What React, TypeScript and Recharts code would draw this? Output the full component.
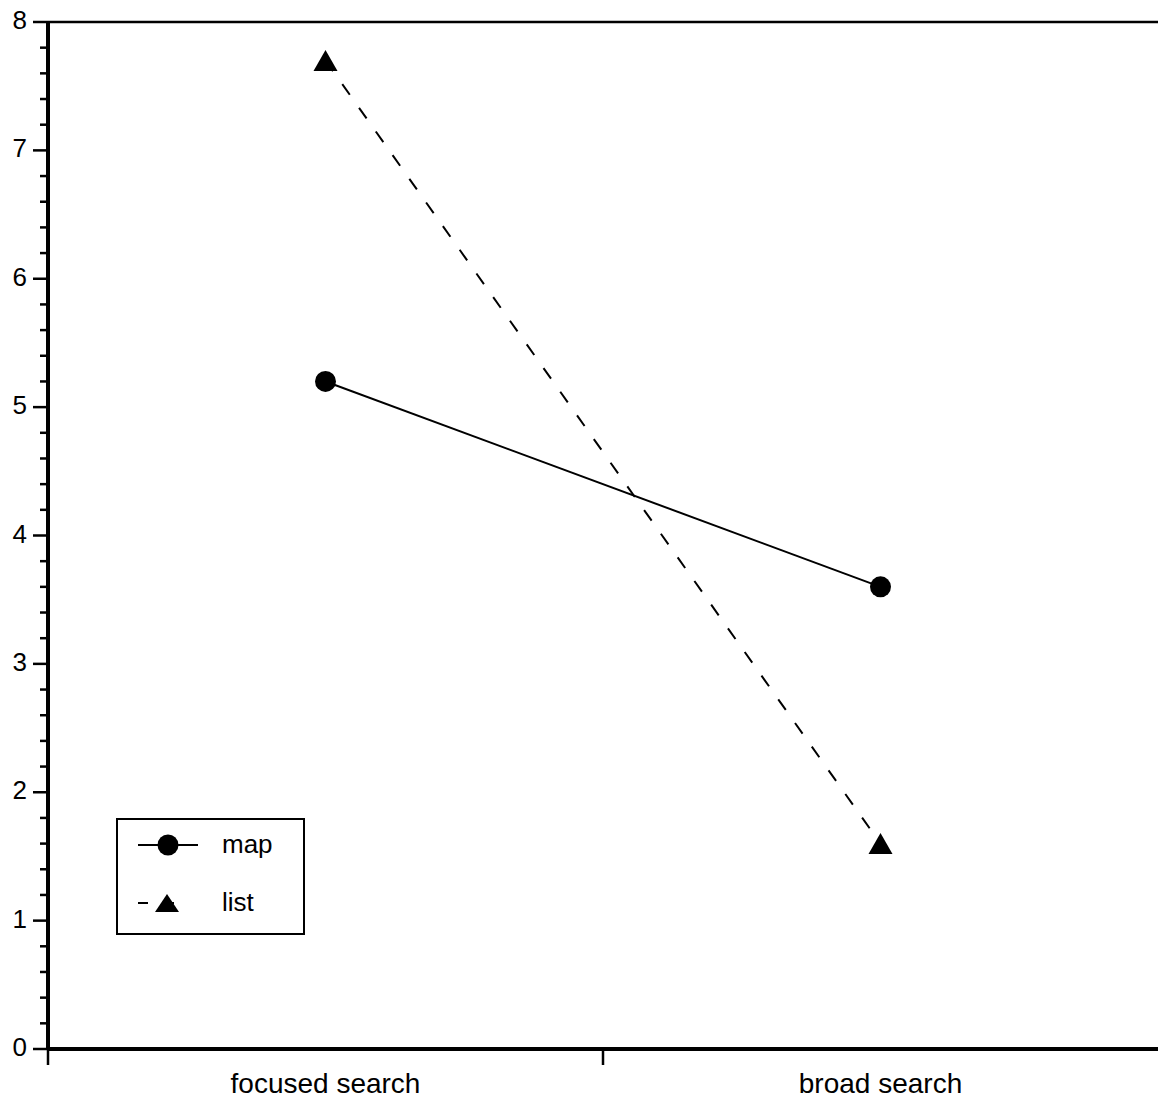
import { Legend, Line, LineChart, ReferenceLine, XAxis, YAxis } from 'recharts';

const FONT = '"Liberation Sans", Arial, sans-serif';

const CATEGORIES = ['focused search', 'broad search'];
const MAP_VALUES = [5.2, 3.6];
const LIST_VALUES = [7.7, 1.6];
const Y_MAJOR_TICKS = [0, 1, 2, 3, 4, 5, 6, 7, 8];
const Y_MINOR_PER_MAJOR = 5;

const SERIES = [
  { key: 'map', name: 'map', dash: undefined as string | undefined, marker: 'circle' },
  { key: 'list', name: 'list', dash: '13 16', marker: 'triangle' },
];

const data = CATEGORIES.map((name, i) => ({
  name,
  pos: i + 0.5,
  map: MAP_VALUES[i],
  list: LIST_VALUES[i],
}));

// minor ticks every 0.2, labels only on the whole numbers
const yTicks = Y_MAJOR_TICKS.slice(0, -1)
  .flatMap((t) =>
    Array.from({ length: Y_MINOR_PER_MAJOR }, (_, k) => Math.round((t + k / Y_MINOR_PER_MAJOR) * 10) / 10),
  )
  .concat(Y_MAJOR_TICKS[Y_MAJOR_TICKS.length - 1]);

// band edges get tick marks, band centres get the category label (right edge falls off the page)
const xTicks = CATEGORIES.flatMap((_, i) => [i, i + 0.5]);

function Marker({ type, cx, cy, small }: { type: string; cx: number; cy: number; small?: boolean }) {
  if (type === 'circle') return <circle cx={cx} cy={cy} r={10.5} fill="#000" />;
  const h = small ? 9 : 10.5;
  return <polygon points={`${cx},${cy - h} ${cx + 12},${cy + h} ${cx - 12},${cy + h}`} fill="#000" />;
}

function YTick({ x, y, payload }: any) {
  const v = payload.value;
  const major = Y_MAJOR_TICKS.includes(v);
  return (
    <g>
      <line x1={x - (major ? 15 : 8)} x2={x} y1={y} y2={y} stroke="#000" strokeWidth={2.5} />
      {major && (
        <text x={x - 21} y={y + 7} textAnchor="end" fontSize={26} fontFamily={FONT} fill="#000">
          {v}
        </text>
      )}
    </g>
  );
}

function XTick({ x, y, payload }: any) {
  const v = payload.value;
  if (Number.isInteger(v)) {
    return <line x1={x} x2={x} y1={y} y2={y + 16} stroke="#000" strokeWidth={2.5} />;
  }
  return (
    <text x={x} y={y + 44} textAnchor="middle" fontSize={28} fontFamily={FONT} fill="#000">
      {CATEGORIES[Math.floor(v)]}
    </text>
  );
}

function LegendBox() {
  return (
    <svg width={189} height={117}>
      <rect x={1} y={1} width={187} height={115} fill="#fff" stroke="#000" strokeWidth={2} />
      {SERIES.map((s, i) => {
        const cy = 27 + i * 58;
        return (
          <g key={s.key}>
            <line
              x1={22}
              x2={s.dash ? 64 : 82}
              y1={cy}
              y2={cy}
              stroke="#000"
              strokeWidth={2}
              strokeDasharray={s.dash ? '10 16' : undefined}
            />
            <Marker type={s.marker} cx={s.dash ? 51 : 52} cy={cy} small={!!s.dash} />
            <text x={106} y={cy + 8} fontSize={26} fontFamily={FONT} fill="#000">
              {s.name}
            </text>
          </g>
        );
      })}
    </svg>
  );
}

export default function App() {
  return (
    <div style={{ position: 'absolute', left: 0, top: 0, background: '#fff' }}>
      <LineChart
        width={1158}
        height={1104}
        data={data}
        margin={{ top: 22, right: 0, left: 0, bottom: 0 }}
        style={{ fontFamily: FONT }}
      >
        <XAxis
          dataKey="pos"
          type="number"
          domain={[0, CATEGORIES.length]}
          ticks={xTicks}
          interval={0}
          height={55}
          tickSize={0}
          tickMargin={0}
          tickLine={false}
          tick={<XTick />}
          axisLine={{ stroke: '#000', strokeWidth: 4 }}
        />
        <YAxis
          type="number"
          domain={[0, 8]}
          ticks={yTicks}
          interval={0}
          width={48}
          tickSize={0}
          tickMargin={0}
          tickLine={false}
          tick={<YTick />}
          axisLine={{ stroke: '#000', strokeWidth: 4 }}
        />
        <ReferenceLine y={8} stroke="#000" strokeWidth={2.5} />
        {SERIES.map((s) => (
          <Line
            key={s.key}
            type="linear"
            dataKey={s.key}
            name={s.name}
            stroke="#000"
            strokeWidth={2}
            strokeDasharray={s.dash}
            dot={(p: any) => <Marker key={`${s.key}-${p.index}`} type={s.marker} cx={p.cx} cy={p.cy} />}
            activeDot={false}
            isAnimationActive={false}
          />
        ))}
        <Legend
          layout="vertical"
          align="center"
          verticalAlign="middle"
          content={() => <LegendBox />}
          wrapperStyle={{ left: 116, top: 818, width: 189, height: 117 }}
        />
      </LineChart>
    </div>
  );
}
